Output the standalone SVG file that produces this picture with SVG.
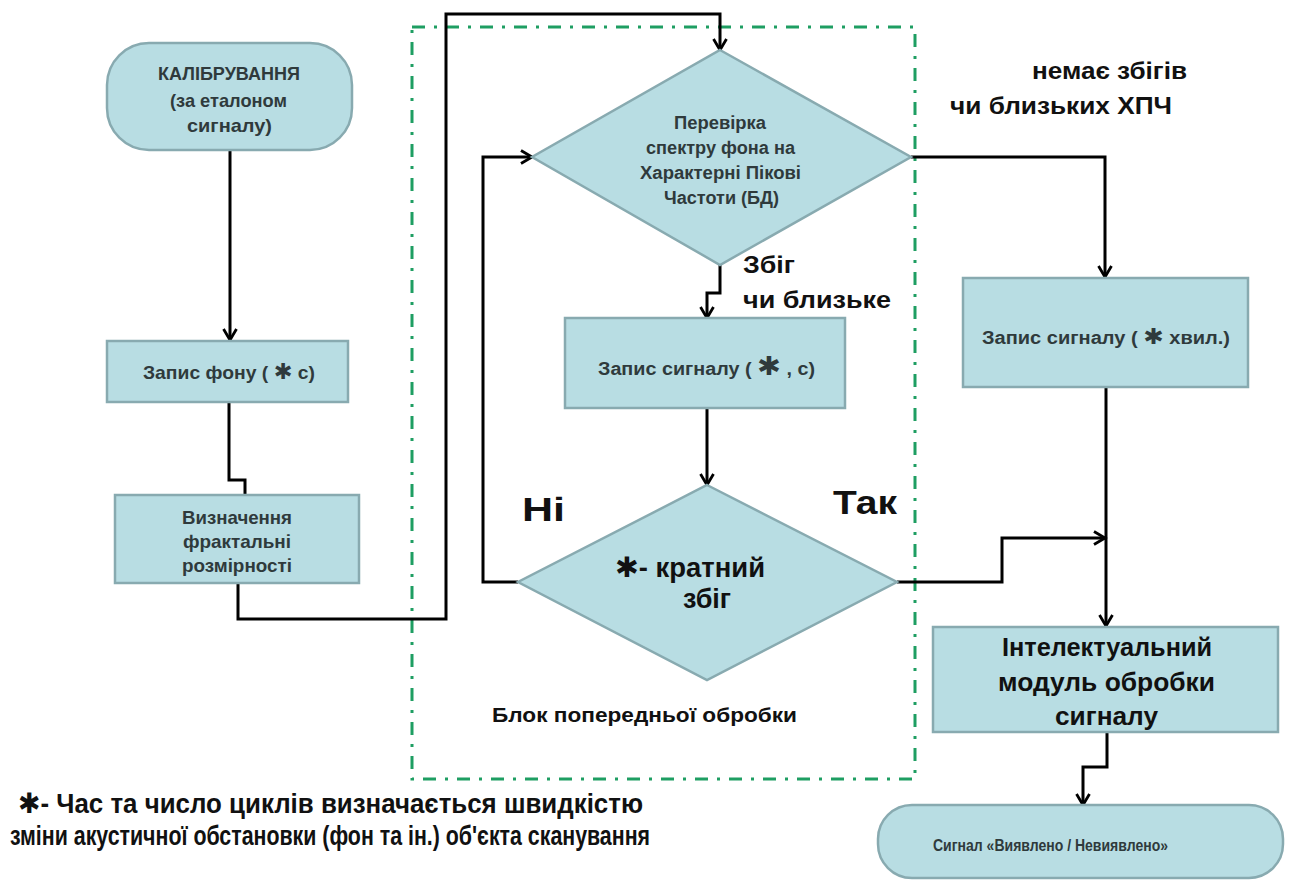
<svg xmlns="http://www.w3.org/2000/svg" width="1295" height="883" viewBox="0 0 1295 883">
<style>
.box{fill:#b8dde3;stroke:#88aab0;stroke-width:2.5}
.t{font-family:"Liberation Sans","DejaVu Sans",sans-serif;font-weight:bold;fill:#2f3a3c}
.lbl{font-family:"Liberation Sans","DejaVu Sans",sans-serif;font-weight:bold;fill:#111}
.ast{font-family:"DejaVu Sans",sans-serif}
.c{fill:none;stroke:#000;stroke-width:3;stroke-linejoin:miter}
.ca{fill:none;stroke:#000;stroke-width:3;marker-end:url(#arr)}
.grp{fill:none;stroke:#1e9e62;stroke-width:3;stroke-dasharray:13 9 3 9}
</style>
<defs>
<marker id="arr" markerUnits="userSpaceOnUse" markerWidth="16" markerHeight="16" refX="13" refY="8" orient="auto">
<path d="M2,1.5 L13,8 L2,14.5" fill="none" stroke="#000" stroke-width="2.8"/>
</marker>
</defs>
<rect width="1295" height="883" fill="#fff"/>

<rect class="grp" x="412" y="27" width="503" height="752"/>

<g id="connectors">
<path class="ca" d="M230,150 V340"/>
<path class="c" d="M229,402 V480 H245 V495"/>
<path class="ca" d="M238,583 V619 H446 V14 H720 V50"/>
<path class="ca" d="M720,265 V293 H707 V318"/>
<path class="ca" d="M707,408 V485"/>
<path class="ca" d="M518,582 H483 V157 H532"/>
<path class="ca" d="M911,157 H1105 V277"/>
<path class="ca" d="M1106,387 V626"/>
<path class="ca" d="M897,582 H1002 V538 H1105"/>
<path class="ca" d="M1107,732 V767 H1083 V805"/>
</g>

<g id="calib">
<rect class="box" x="107" y="43" width="245" height="107" rx="42"/>
<text class="t" x="158" y="80" font-size="19" textLength="142" lengthAdjust="spacingAndGlyphs">КАЛІБРУВАННЯ</text>
<text class="t" x="170" y="107" font-size="19" textLength="117" lengthAdjust="spacingAndGlyphs">(за еталоном</text>
<text class="t" x="187" y="132" font-size="19" textLength="85" lengthAdjust="spacingAndGlyphs">сигналу)</text>
</g>

<g id="zapys-fonu">
<rect class="box" x="107" y="341" width="241" height="61"/>
<text class="t" x="143" y="379" font-size="19" textLength="172" lengthAdjust="spacingAndGlyphs">Запис фону ( <tspan class="ast" font-size="22">✱</tspan> с)</text>
</g>

<g id="fractal">
<rect class="box" x="115" y="495" width="244" height="88"/>
<text class="t" x="182" y="524" font-size="19" textLength="110" lengthAdjust="spacingAndGlyphs">Визначення</text>
<text class="t" x="183" y="548" font-size="19" textLength="108" lengthAdjust="spacingAndGlyphs">фрактальні</text>
<text class="t" x="182" y="572" font-size="19" textLength="110" lengthAdjust="spacingAndGlyphs">розмірності</text>
</g>

<g id="check">
<polygon class="box" points="720,50 911,157 720,265 532,157"/>
<text class="t" x="674" y="129" font-size="17.5" textLength="92" lengthAdjust="spacingAndGlyphs">Перевірка</text>
<text class="t" x="646" y="154" font-size="17.5" textLength="149" lengthAdjust="spacingAndGlyphs">спектру фона на</text>
<text class="t" x="640" y="179" font-size="17.5" textLength="161" lengthAdjust="spacingAndGlyphs">Характерні Пікові</text>
<text class="t" x="664" y="204" font-size="17.5" textLength="115" lengthAdjust="spacingAndGlyphs">Частоти (БД)</text>
</g>

<g id="zapys-sygnalu">
<rect class="box" x="565" y="318" width="280" height="90"/>
<text class="t" x="598" y="375" font-size="18" textLength="217" lengthAdjust="spacingAndGlyphs">Запис сигналу (  <tspan class="ast" font-size="26">✱</tspan> ,  с)</text>
</g>

<g id="kratnyi">
<polygon class="box" points="707,485 897,582 707,680 518,582"/>
<text class="lbl" x="615" y="577" font-size="27" textLength="150" lengthAdjust="spacingAndGlyphs"><tspan class="ast" font-size="28">✱</tspan>- кратний</text>
<text class="lbl" x="707" y="608" font-size="27" text-anchor="middle">збіг</text>
</g>

<g id="zapys-hvyl">
<rect class="box" x="963" y="278" width="285" height="109"/>
<text class="t" x="982" y="344" font-size="18" textLength="248" lengthAdjust="spacingAndGlyphs">Запис сигналу (   <tspan class="ast" font-size="22">✱</tspan>  хвил.)</text>
</g>

<g id="intel">
<rect class="box" x="933" y="627" width="345" height="105"/>
<text class="lbl" x="1002" y="656" font-size="25" textLength="210" lengthAdjust="spacingAndGlyphs">Інтелектуальний</text>
<text class="lbl" x="998" y="691" font-size="25" textLength="217" lengthAdjust="spacingAndGlyphs">модуль обробки</text>
<text class="lbl" x="1055" y="725" font-size="25" textLength="103" lengthAdjust="spacingAndGlyphs">сигналу</text>
</g>

<g id="result">
<rect class="box" x="878" y="805" width="405" height="73" rx="34"/>
<text class="t" x="933" y="851" font-size="17" textLength="235" lengthAdjust="spacingAndGlyphs">Сигнал «Виявлено / Невиявлено»</text>
</g>

<g id="labels">
<text class="lbl" x="1032" y="79" font-size="24" textLength="155" lengthAdjust="spacingAndGlyphs">немає збігів</text>
<text class="lbl" x="950" y="114" font-size="24" textLength="222" lengthAdjust="spacingAndGlyphs">чи близьких ХПЧ</text>
<text class="lbl" x="743" y="273" font-size="24" textLength="52" lengthAdjust="spacingAndGlyphs">Збіг</text>
<text class="lbl" x="743" y="308" font-size="24" textLength="148" lengthAdjust="spacingAndGlyphs">чи близьке</text>
<text class="lbl" x="522" y="521" font-size="34" textLength="43" lengthAdjust="spacingAndGlyphs">Ні</text>
<text class="lbl" x="833" y="514" font-size="34" textLength="64" lengthAdjust="spacingAndGlyphs">Так</text>
<text class="lbl" x="492" y="722" font-size="21" textLength="305" lengthAdjust="spacingAndGlyphs">Блок попередньої обробки</text>
<text class="lbl" x="18" y="813" font-size="27" textLength="625" lengthAdjust="spacingAndGlyphs"><tspan class="ast" font-size="28">✱</tspan>- Час та число циклів визначається швидкістю</text>
<text class="lbl" x="10" y="845" font-size="27" textLength="640" lengthAdjust="spacingAndGlyphs">зміни  акустичної обстановки (фон та ін.) об'єкта сканування</text>
</g>
</svg>
